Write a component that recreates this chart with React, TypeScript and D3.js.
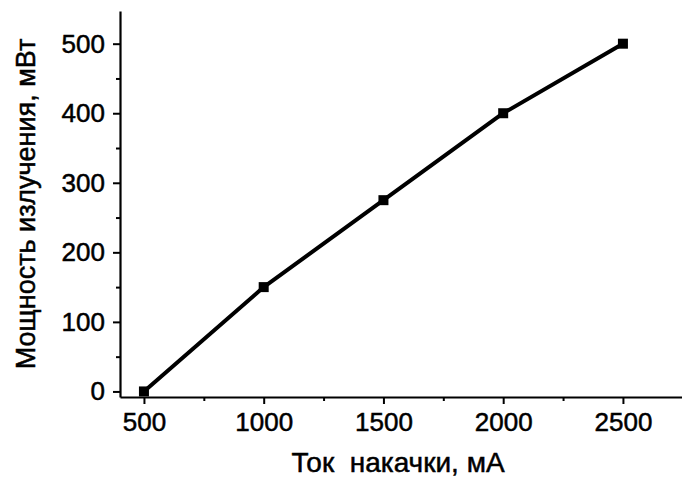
import { useEffect, useRef } from "react";
import * as d3 from "d3";

// pump current, mA
const current = [500, 1000, 1500, 2000, 2500];
// output power, mW
const power = [0, 150, 275, 400, 500];

const xMajor = [500, 1000, 1500, 2000, 2500];
const xMinor = [750, 1250, 1750, 2250, 2750];
const yMajor = [0, 100, 200, 300, 400, 500];
const yMinor = [50, 150, 250, 350, 450];

const xTitle = "Ток  накачки, мА";
const yTitle = "Мощность излучения, мВт";

const App = () => {
  const svgRef = useRef<SVGSVGElement>(null);

  useEffect(() => {
    const width = 682, height = 478;
    const font = "Arial, 'Liberation Sans', sans-serif";

    const svg = d3.select(svgRef.current);
    svg.selectAll("*").remove();
    svg.attr("width", width).attr("height", height);

    const x = d3.scaleLinear().domain([400, 2755]).range([120, 684]);
    const y = d3.scaleLinear().domain([-8, 547]).range([397, 11]);

    // minor ticks first
    svg.append("g")
      .attr("transform", `translate(0,${y(-8)})`)
      .call(d3.axisBottom(x).tickValues(xMinor).tickSize(4).tickFormat(() => ""))
      .call(g => g.select(".domain").remove());
    svg.append("g")
      .attr("transform", `translate(${x(400)},0)`)
      .call(d3.axisLeft(y).tickValues(yMinor).tickSize(4).tickFormat(() => ""))
      .call(g => g.select(".domain").remove());

    const xAxis = svg.append("g")
      .attr("transform", `translate(0,${y(-8)})`)
      .call(d3.axisBottom(x).tickValues(xMajor).tickSize(7).tickSizeOuter(0).tickPadding(9).tickFormat(d3.format("d")));
    const yAxis = svg.append("g")
      .attr("transform", `translate(${x(400)},0)`)
      .call(d3.axisLeft(y).tickValues(yMajor).tickSize(7).tickSizeOuter(0).tickPadding(8).tickFormat(d3.format("d")));

    [xAxis, yAxis].forEach(g => {
      g.selectAll("text")
        .attr("font-family", font).attr("font-size", 26)
        .attr("fill", "#000").attr("stroke", "#000").attr("stroke-width", 0.5);
    });
    svg.selectAll(".domain").attr("stroke", "#000").attr("stroke-width", 2.2);
    svg.selectAll(".tick line").attr("stroke", "#000").attr("stroke-width", 2);

    const pts = current.map((c, i) => [c, power[i]] as [number, number]);

    svg.append("path")
      .datum(pts)
      .attr("fill", "none")
      .attr("stroke", "#000")
      .attr("stroke-width", 4)
      .attr("stroke-linejoin", "round")
      .attr("d", d3.line().x(d => x(d[0])).y(d => y(d[1])));

    const s = 10;
    svg.selectAll("rect.pt")
      .data(pts)
      .enter()
      .append("rect")
      .attr("class", "pt")
      .attr("x", d => x(d[0]) - s / 2)
      .attr("y", d => y(d[1]) - s / 2)
      .attr("width", s)
      .attr("height", s)
      .attr("fill", "#000");

    svg.append("text")
      .attr("x", 398)
      .attr("y", 472)
      .attr("text-anchor", "middle")
      .attr("font-family", font)
      .attr("font-size", 28)
      .attr("stroke", "#000")
      .attr("stroke-width", 0.5)
      .style("white-space", "pre")
      .text(xTitle);

    svg.append("text")
      .attr("transform", "translate(35,204) rotate(-90)")
      .attr("text-anchor", "middle")
      .attr("font-family", font)
      .attr("font-size", 27)
      .attr("stroke", "#000")
      .attr("stroke-width", 0.5)
      .text(yTitle);
  }, []);

  return <svg ref={svgRef} style={{ position: "absolute", left: 0, top: 0, background: "#fff" }} />;
};

export default App;
